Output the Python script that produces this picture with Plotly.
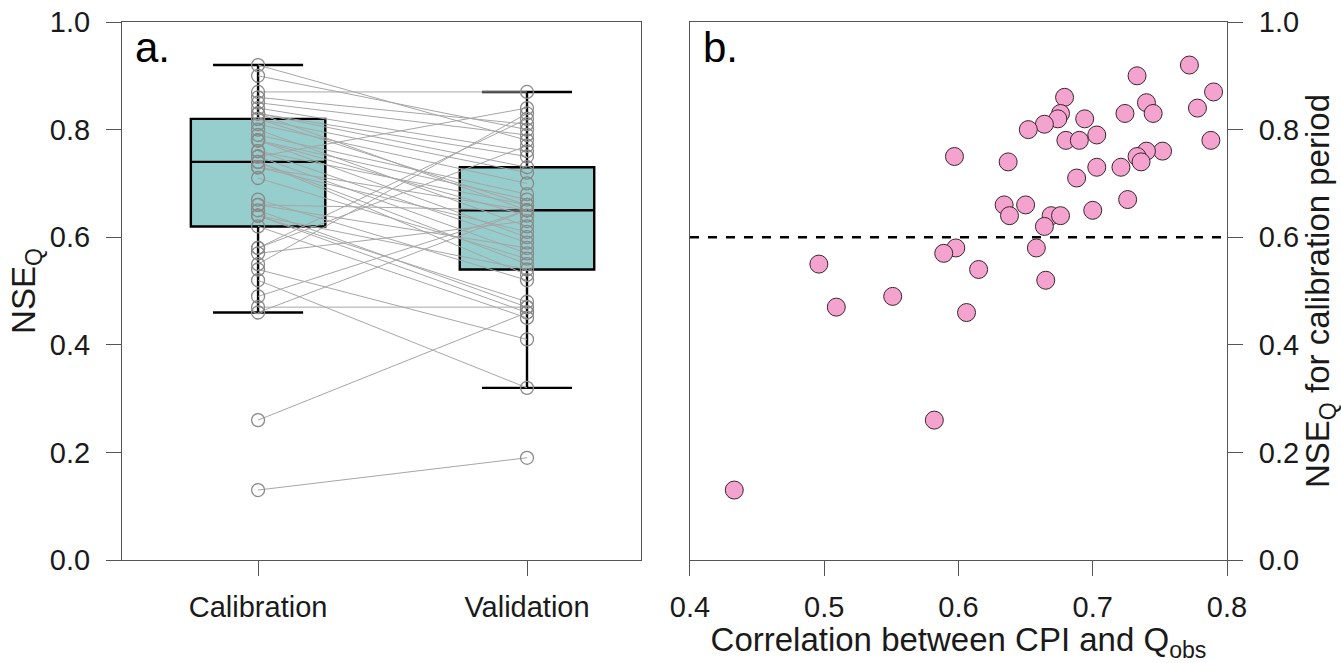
import plotly.graph_objects as go

# ---------------- data ----------------
# correlation between CPI and Qobs for each catchment
corr = [0.772, 0.733, 0.790, 0.679, 0.740, 0.778, 0.745, 0.724, 0.676, 0.674,
        0.694, 0.664, 0.652, 0.703, 0.680, 0.690, 0.788, 0.597, 0.637, 0.752,
        0.740, 0.733, 0.736, 0.703, 0.721, 0.688, 0.726, 0.634, 0.650, 0.638,
        0.700, 0.669, 0.676, 0.664, 0.658, 0.598, 0.589, 0.496, 0.615, 0.665,
        0.551, 0.509, 0.606, 0.582, 0.433]
# NSE_Q calibration period
nse_cal = [0.92, 0.90, 0.87, 0.86, 0.85, 0.84, 0.83, 0.83, 0.83, 0.82,
           0.82, 0.81, 0.80, 0.79, 0.78, 0.78, 0.78, 0.75, 0.74, 0.76,
           0.76, 0.75, 0.74, 0.73, 0.73, 0.71, 0.67, 0.66, 0.66, 0.64,
           0.65, 0.64, 0.64, 0.62, 0.58, 0.58, 0.57, 0.55, 0.54, 0.52,
           0.49, 0.47, 0.46, 0.26, 0.13]
# NSE_Q validation period
nse_val = [0.78, 0.80, 0.87, 0.81, 0.79, 0.76, 0.75, 0.73, 0.65, 0.72,
           0.66, 0.70, 0.62, 0.68, 0.64, 0.60, 0.67, 0.84, 0.55, 0.66,
           0.59, 0.57, 0.53, 0.65, 0.61, 0.56, 0.52, 0.65, 0.58, 0.48,
           0.47, 0.54, 0.46, 0.45, 0.82, 0.77, 0.63, 0.83, 0.41, 0.32,
           0.65, 0.47, 0.65, 0.46, 0.19]

periods = ["Calibration", "Validation"]
period_pos = [1, 2]
# box statistics (hinges, median, whisker ends)
box_q1 = [0.62, 0.54]
box_median = [0.74, 0.65]
box_q3 = [0.82, 0.73]
box_low = [0.46, 0.32]
box_high = [0.92, 0.87]

threshold = 0.6
y_ticks = [0.0, 0.2, 0.4, 0.6, 0.8, 1.0]
x2_ticks = [0.4, 0.5, 0.6, 0.7, 0.8]

# ---------------- figure ----------------
FONT = "Arial, Liberation Sans, sans-serif"
TXT = "#1a1a1a"
AXC = "#555555"
TICK_SIZE = 29
TITLE_SIZE = 33

fig = go.Figure()

# boxes
for i in range(2):
    fig.add_trace(go.Box(
        x=[period_pos[i]], q1=[box_q1[i]], median=[box_median[i]], q3=[box_q3[i]],
        lowerfence=[box_low[i]], upperfence=[box_high[i]],
        width=0.5, whiskerwidth=0.67,
        fillcolor="#96CDCD", line=dict(color="black", width=2.4),
        boxpoints=False, showlegend=False, hoverinfo="skip",
        xaxis="x", yaxis="y"))

# paired connecting lines
lx, ly = [], []
for c, v in zip(nse_cal, nse_val):
    lx += [period_pos[0], period_pos[1], None]
    ly += [c, v, None]
fig.add_trace(go.Scatter(x=lx, y=ly, mode="lines",
                         line=dict(color="#a6a6a6", width=1),
                         showlegend=False, hoverinfo="skip", xaxis="x", yaxis="y"))

# open circles
fig.add_trace(go.Scatter(
    x=[period_pos[0]] * len(nse_cal) + [period_pos[1]] * len(nse_val),
    y=nse_cal + nse_val, mode="markers",
    marker=dict(symbol="circle-open", size=13, color="#8a8a8a", line=dict(width=1.3)),
    showlegend=False, xaxis="x", yaxis="y"))

# panel b threshold line
fig.add_trace(go.Scatter(x=[x2_ticks[0], x2_ticks[-1]], y=[threshold, threshold],
                         mode="lines", line=dict(color="black", width=2.5, dash="dash"),
                         showlegend=False, hoverinfo="skip", xaxis="x2", yaxis="y2"))

# panel b scatter
fig.add_trace(go.Scatter(
    x=corr, y=nse_cal, mode="markers",
    marker=dict(size=18, color="#F4A3CE", line=dict(color="#3b2530", width=1)),
    showlegend=False, xaxis="x2", yaxis="y2"))

axis_common = dict(showline=True, linecolor=AXC, linewidth=1, mirror=True,
                   ticks="outside", ticklen=15, tickcolor=AXC, tickwidth=1,
                   showgrid=False, zeroline=False, automargin=False,
                   tickfont=dict(family=FONT, size=TICK_SIZE, color=TXT))

fig.update_layout(
    width=1341, height=663,
    margin=dict(l=122, r=114, t=22, b=103),
    paper_bgcolor="white", plot_bgcolor="white",
    font=dict(family=FONT, color=TXT),
    xaxis=dict(domain=[0, 0.4697], range=[0.494, 2.424],
               tickvals=period_pos, ticktext=periods, ticklabelstandoff=6,
               **axis_common),
    yaxis=dict(domain=[0, 1], range=[0, 1], tickvals=y_ticks, tickformat=".1f",
               ticklabelstandoff=10,
               title=dict(text="NSE<sub>Q</sub>",
                          font=dict(family=FONT, size=TITLE_SIZE, color=TXT),
                          standoff=4),
               **axis_common),
    xaxis2=dict(domain=[0.514, 1], range=[0.4, 0.8], anchor="y2",
                tickvals=x2_ticks, tickformat=".1f", ticklabelstandoff=6,
                title=dict(text="Correlation between CPI and Q<sub>obs</sub>",
                           font=dict(family=FONT, size=TITLE_SIZE, color=TXT), standoff=2),
                **axis_common),
    yaxis2=dict(domain=[0, 1], range=[0, 1], anchor="x2", side="right",
                tickvals=y_ticks, tickformat=".1f", ticklabelstandoff=10,
                title=dict(text="NSE<sub>Q</sub> for calibration period",
                           font=dict(family=FONT, size=TITLE_SIZE, color=TXT), standoff=6),
                **axis_common),
    annotations=[
        dict(text="a.", xref="x domain", yref="y domain", x=0.022, y=1.0,
             xanchor="left", yanchor="top", showarrow=False,
             font=dict(family=FONT, size=42, color="black")),
        dict(text="b.", xref="x2 domain", yref="y2 domain", x=0.02, y=1.0,
             xanchor="left", yanchor="top", showarrow=False,
             font=dict(family=FONT, size=42, color="black")),
    ],
)

fig.write_html("out.html", config={"displayModeBar": False},
               post_script="document.body.style.margin='0';")
